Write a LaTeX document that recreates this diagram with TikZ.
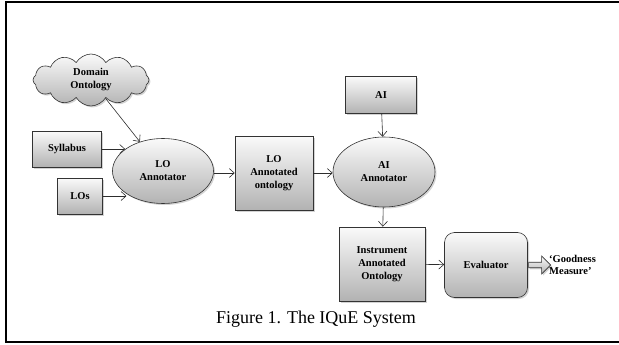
\documentclass[tikz,border=0pt]{standalone}
\usepackage{fontspec}
\setmainfont{Liberation Serif}
\usetikzlibrary{arrows.meta,positioning,shadows,shapes.geometric,shapes.symbols,shapes.arrows}

\begin{document}
\begin{tikzpicture}[
  x=1pt, y=-1pt,
  >={Straight Barb[length=5pt,width=9pt]},
  base/.style={draw=gray!40!black, line width=0.6pt, top color=gray!4, bottom color=gray!60,
    drop shadow={shadow xshift=1.5pt, shadow yshift=-1.5pt, opacity=0.35},
    align=center, font=\bfseries\fontsize{10.5}{13}\selectfont, inner sep=1pt},
  block/.style={base, rectangle},
  annot/.style={base, ellipse},
  ontocloud/.style={base, cloud, cloud puffs=12, cloud puff arc=120, cloud ignores aspect},
  link/.style={->, draw=gray!35!black, line width=0.6pt}
]
\useasboundingbox (0,0) rectangle (619,345);
% frame
\draw[line width=1.6pt] (619,2) -- (6,2) -- (6,342) -- (619,342);

\node[ontocloud, minimum width=116pt, minimum height=52pt] (onto) at (91,80) {Domain\\Ontology};
\node[block, minimum width=69pt, minimum height=36pt] (syl) at (67,149) {Syllabus};
\node[block, minimum width=45pt, minimum height=36pt] (los) at (80,196) {LOs};
\node[annot, minimum width=101pt, minimum height=65pt] (loann) at (163,171) {LO\\Annotator};
\node[block, minimum width=78pt, minimum height=74pt] (loonto) at (274,173) {LO\\Annotated\\ontology};
\node[block, minimum width=71pt, minimum height=37pt] (ai) at (381,95) {AI};
\node[annot, minimum width=102pt, minimum height=70pt] (aiann) at (384,172) {AI\\Annotator};
\node[block, minimum width=86pt, minimum height=74pt] (instr) at (382,264) {Instrument\\Annotated\\Ontology};
\node[block, rounded corners=10pt, minimum width=83pt, minimum height=65pt] (eval) at (486,265) {Evaluator};
\node[base, single arrow, single arrow head extend=4pt, minimum width=18pt, minimum height=22pt,
  inner sep=1.5pt, right=0.5pt of eval] (fat) {};
\node[font=\bfseries\fontsize{10.5}{12}\selectfont, align=left, anchor=west, inner sep=0pt]
  (goodness) at ([xshift=-2pt]fat.east) {‘Goodness\\Measure’};

\node[font=\fontsize{18}{20}\selectfont] (caption) at (316,319) {Figure 1. The IQuE System};

\draw[link] (onto) -- (loann);
\draw[link] (syl.east) -- (syl.east -| loann.150);
\draw[link] (los.east) -- (los.east -| loann.212);
\draw[link] (loann.east |- loonto.west) -- (loonto.west);
\draw[link] (loonto.east) -- (loonto.east -| aiann.west);
\draw[link] (ai) -- (aiann);
\draw[link] (aiann) -- (instr);
\draw[link] (instr) -- (eval);
\end{tikzpicture}
\end{document}
